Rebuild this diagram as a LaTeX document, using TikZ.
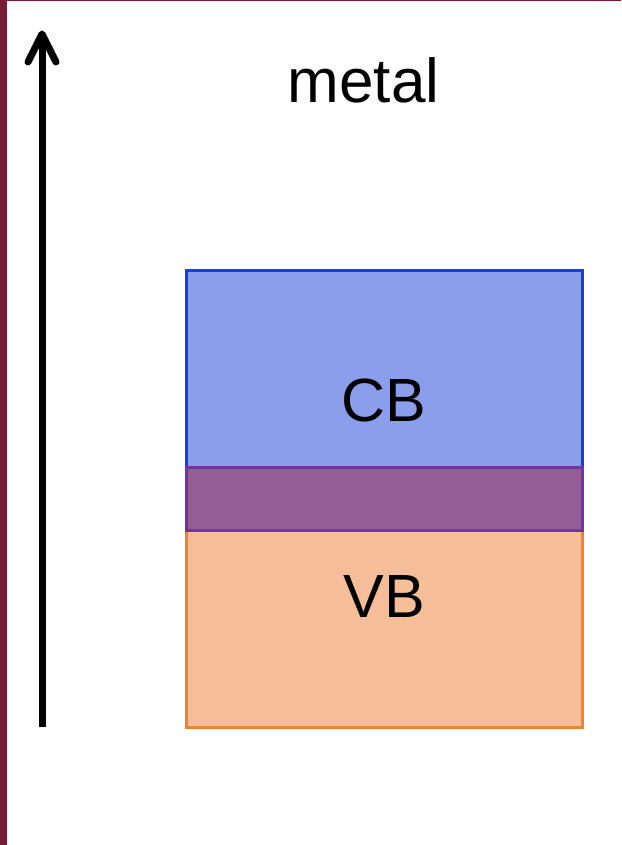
\documentclass[tikz,border=0pt]{standalone}
\usepackage{fontspec}
\setmainfont{Liberation Sans}
\begin{document}
\begin{tikzpicture}[x=1pt,y=-1pt,
  band/.style={rectangle, minimum width=396pt, inner sep=0pt, line width=3pt, font=\fontsize{61}{70}\selectfont},
  lbl/.style={font=\fontsize{62}{70}\selectfont, inner sep=0pt}]
\definecolor{maroon}{HTML}{7B1C36}
\definecolor{cbfill}{HTML}{8A9EEB}
\definecolor{cbline}{HTML}{1C3CDC}
\definecolor{vbfill}{HTML}{F6BE98}
\definecolor{vbline}{HTML}{F0822F}
\definecolor{gapfill}{HTML}{945D96}
\definecolor{gapline}{HTML}{7334A0}
\useasboundingbox (0,0) rectangle (621,845);
\fill[white] (0,0) rectangle (621,845);
\fill[maroon] (0,0) rectangle (7,845);
\fill[maroon] (0,0) rectangle (621,1.5);
% axis
\coordinate (axbot) at (42,727);
\coordinate (axtop) at (42,34);
\coordinate (barbl) at (28,62);
\coordinate (barbr) at (56,62);
\draw[line width=7pt] (axbot) -- (axtop);
\draw[line width=7pt, line cap=round, line join=round] (barbl) -- (42,34) -- (barbr);
\node[lbl] (metal) at (363.5,80) {metal};
% bands
\node[band, minimum height=260pt, fill=cbfill, draw=cbline] (cb) at (384,400) {CB};
\node[band, minimum height=260pt, fill=vbfill, draw=vbline] (vb) at (384,597) {VB};
\node[band, minimum height=63pt, fill=gapfill, draw=gapline] (gap) at (384,498.5) {};
\end{tikzpicture}
\end{document}
